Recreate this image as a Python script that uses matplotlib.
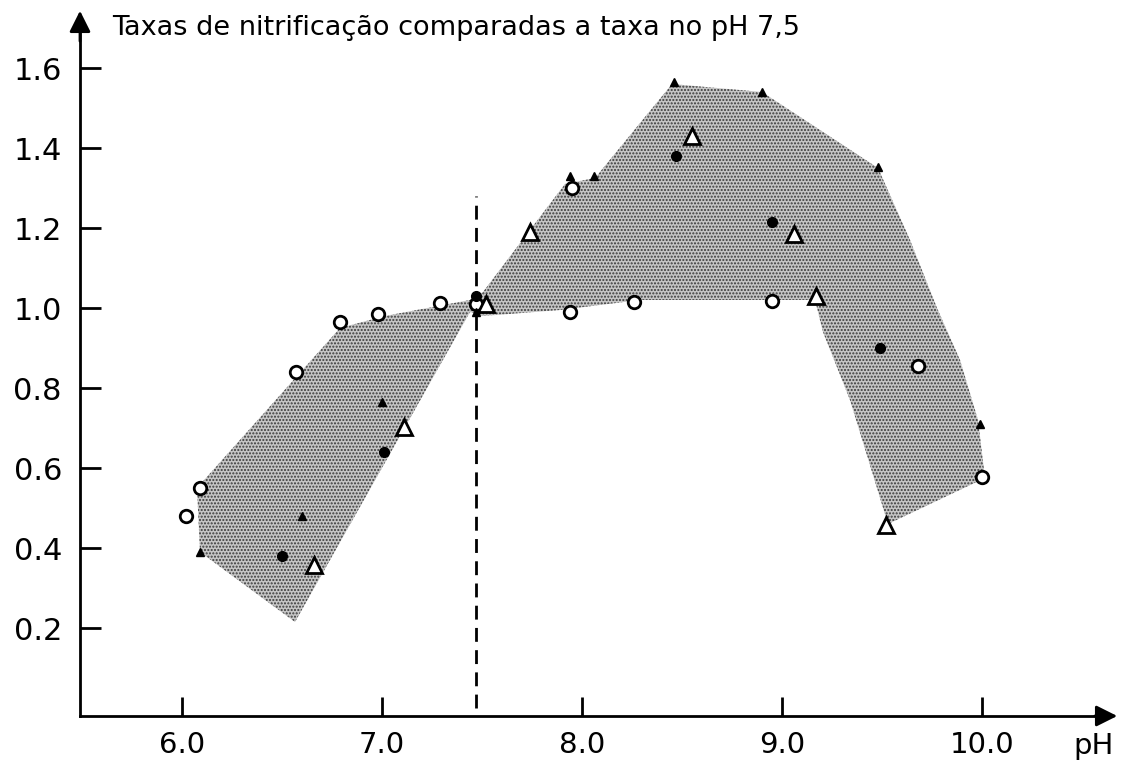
import matplotlib.pyplot as plt
from matplotlib.ticker import FixedLocator, StrMethodFormatter

plt.rcParams['font.family'] = ['DejaVu Sans']

# --- dados ---
# círculos abertos
circ_open_ph = [6.02, 6.09, 6.57, 6.79, 6.98, 7.29, 7.47, 7.94, 7.95, 8.26, 8.95, 9.68, 10.0]
circ_open_y = [0.48, 0.55, 0.84, 0.965, 0.985, 1.013, 1.01, 0.99, 1.30, 1.015, 1.018, 0.855, 0.577]

# círculos cheios
circ_fill_ph = [6.50, 7.01, 7.47, 8.47, 8.95, 9.49]
circ_fill_y = [0.38, 0.64, 1.03, 1.38, 1.215, 0.90]

# triângulos cheios (pequenos)
tri_fill_ph = [6.09, 6.60, 7.00, 7.47, 7.94, 8.06, 8.46, 8.90, 9.48, 9.99]
tri_fill_y = [0.39, 0.48, 0.765, 0.99, 1.33, 1.33, 1.565, 1.54, 1.353, 0.71]

# triângulos abertos
tri_open_ph = [6.66, 7.11, 7.52, 7.74, 8.55, 9.06, 9.17, 9.52]
tri_open_y = [0.358, 0.703, 1.01, 1.19, 1.43, 1.185, 1.03, 0.458]

# contorno da faixa sombreada
band_ph = [6.075, 6.79, 7.015, 7.44, 7.505, 7.74, 7.915, 8.065, 8.45, 8.90, 9.48,
           9.64, 9.775, 9.89, 9.98, 10.015, 9.53, 9.34, 9.205, 9.165, 8.29, 7.89,
           7.505, 7.44, 6.565, 6.09]
band_y = [0.55, 0.95, 0.98, 1.02, 1.04, 1.195, 1.31, 1.325, 1.56, 1.54, 1.35,
          1.17, 1.0, 0.87, 0.72, 0.575, 0.46, 0.77, 0.94, 1.02, 1.02, 0.995,
          0.98, 0.99, 0.215, 0.39]

x_ticks = [6.0, 7.0, 8.0, 9.0, 10.0]
y_ticks = [0.2, 0.4, 0.6, 0.8, 1.0, 1.2, 1.4, 1.6]
ph_ref = 7.47

fig = plt.figure(figsize=(11.31, 7.62), dpi=100)
ax = fig.add_axes([0, 0, 1, 1])
ax.set_xlim(5.09, 10.745)
ax.set_ylim(-0.135, 1.77)

x0, y0 = 5.49, -0.02

# faixa pontilhada
ax.fill(band_ph, band_y, facecolor='#c6c6c6', edgecolor='#3a3a3a', hatch='.....',
        linewidth=0, zorder=1)

# linha tracejada no pH 7,5
ax.plot([ph_ref, ph_ref], [0.0, 1.28], color='black', lw=2, ls=(0, (5, 3)), zorder=2)

# pontos
ax.plot(circ_open_ph, circ_open_y, 'o', ms=9, mfc='white', mec='black', mew=2, zorder=4)
ax.plot(circ_fill_ph, circ_fill_y, 'o', ms=7, mfc='black', mec='black', zorder=4)
ax.plot(tri_fill_ph, tri_fill_y, '^', ms=6, mfc='black', mec='black', zorder=4)
ax.plot(tri_open_ph, tri_open_y, '^', ms=12, mfc='white', mec='black', mew=2, zorder=4)

# eixos com setas
for s in ['top', 'right']:
    ax.spines[s].set_visible(False)
ax.spines['left'].set_position(('data', x0))
ax.spines['bottom'].set_position(('data', y0))
ax.spines['left'].set_bounds(y0, 1.70)
ax.spines['bottom'].set_bounds(x0, 10.62)
ax.spines['left'].set_linewidth(2)
ax.spines['bottom'].set_linewidth(2)
ax.annotate('', xy=(x0, 1.75), xytext=(x0, 1.66),
            arrowprops=dict(arrowstyle='-|>', color='black', lw=2, mutation_scale=32))
ax.annotate('', xy=(10.69, y0), xytext=(10.55, y0),
            arrowprops=dict(arrowstyle='-|>', color='black', lw=2, mutation_scale=32))

ax.xaxis.set_major_locator(FixedLocator(x_ticks))
ax.yaxis.set_major_locator(FixedLocator(y_ticks))
ax.xaxis.set_major_formatter(StrMethodFormatter('{x:.1f}'))
ax.yaxis.set_major_formatter(StrMethodFormatter('{x:.1f}'))
ax.tick_params(axis='x', direction='in', length=14, width=2, pad=11, labelsize=21)
ax.tick_params(axis='y', direction='in', length=15, width=2, pad=13, labelsize=22)

ax.text(10.56, -0.06, 'pH', ha='center', va='top', fontsize=21)
ax.text(5.65, 1.683, 'Taxas de nitrificação comparadas a taxa no pH 7,5',
        ha='left', va='baseline', fontsize=19.5)

fig.savefig('out.png', dpi=100)
